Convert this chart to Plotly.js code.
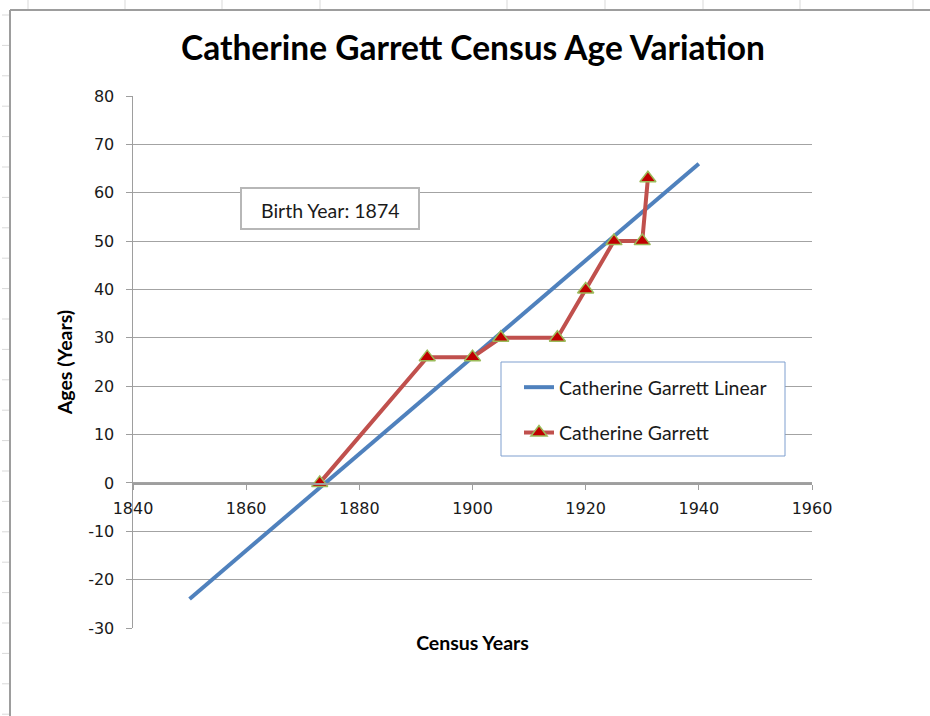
<!DOCTYPE html>
<html>
<head>
<meta charset="utf-8">
<script src="https://cdn.plot.ly/plotly-3.0.1.min.js"></script>
<style>html,body{margin:0;padding:0;background:#fff;}#chart{width:930px;height:716px;}</style>
</head>
<body>
<div id="chart"></div>
<script>
// Data
var censusYears = [1873, 1892, 1900, 1905, 1915, 1920, 1925, 1930, 1931];
var censusAges = [0, 26, 26, 30, 30, 40, 50, 50, 63];
var linearYears = [1850, 1940];
var linearAges = [-24, 66];
var xTickVals = [1840, 1860, 1880, 1900, 1920, 1940, 1960];
var xTickText = ["1840", "1860", "1880", "1900", "1920", "1940", "1960"];
var yTickVals = [-30, -20, -10, 0, 10, 20, 30, 40, 50, 60, 70, 80];
var yTickText = ["-30", "-20", "-10", "0", "10", "20", "30", "40", "50", "60", "70", "80"];
var seriesNames = ["Catherine Garrett Linear", "Catherine Garrett"];
var titleText = "Catherine Garrett Census Age Variation";
var xTitle = "Census Years";
var yTitle = "Ages (Years)";
var noteText = "Birth Year: 1874";

var W = 930, H = 716;
function px(x){ return x / W; }
function py(y){ return 1 - y / H; }

var plotL = 133, plotR = 812, plotT = 96, plotB = 628;
var zeroY = 483;

var traces = [
  {
    x: linearYears, y: linearAges, name: seriesNames[0], type: "scatter", mode: "lines",
    line: {color: "#4f81bd", width: 4}, legendgroup: "a", hoverinfo: "x+y"
  },
  {
    x: censusYears, y: censusAges, name: seriesNames[1], type: "scatter", mode: "lines+markers",
    line: {color: "#c0504d", width: 4},
    marker: {symbol: "triangle-up", size: 14, color: "#c00000", line: {color: "#9bbb59", width: 1.5}},
    legendgroup: "b", hoverinfo: "x+y"
  },
  {
    x: [null], y: [null], xaxis: "x2", yaxis: "y", type: "scatter", mode: "lines",
    showlegend: false, hoverinfo: "skip"
  }
];

var shapes = [];
// spreadsheet frame
shapes.push({type: "line", xref: "paper", yref: "paper", x0: px(10), x1: px(10), y0: py(10), y1: 0, line: {color: "#9d9d9d", width: 2}});
shapes.push({type: "line", xref: "paper", yref: "paper", x0: px(10), x1: 1, y0: py(10), y1: py(10), line: {color: "#9d9d9d", width: 2}});
var colLines = [28, 125, 222, 320, 507, 605, 703, 800, 913];
colLines.forEach(function(c){
  shapes.push({type: "line", xref: "paper", yref: "paper", x0: px(c), x1: px(c), y0: 1, y1: py(9), line: {color: "#d9d9d9", width: 1}});
});
for (var r = 15; r < H; r += 30.4) {
  shapes.push({type: "line", xref: "paper", yref: "paper", x0: px(2), x1: px(9), y0: py(r), y1: py(r), line: {color: "#d9d9d9", width: 1}});
}
// legend box
shapes.push({type: "rect", xref: "paper", yref: "paper", x0: px(501), x1: px(785), y0: py(362), y1: py(456),
  line: {color: "#7f9fcf", width: 1}, fillcolor: "#ffffff", layer: "above"});
// note box
shapes.push({type: "rect", xref: "paper", yref: "paper", x0: px(241), x1: px(419), y0: py(188), y1: py(229),
  line: {color: "#b7b7b7", width: 2}, fillcolor: "#ffffff", layer: "above"});

var tickFont = {family: "'DejaVu Sans', sans-serif", size: 16, color: "#1a1a1a"};

var layout = {
  width: W, height: H,
  margin: {l: 0, r: 0, t: 0, b: 0},
  paper_bgcolor: "#ffffff", plot_bgcolor: "rgba(0,0,0,0)",
  showlegend: true,
  title: {text: "<b>" + titleText + "</b>", x: px(473), xref: "paper", xanchor: "center", y: py(48), yref: "paper", yanchor: "middle",
    font: {family: "Lato, 'Open Sans', sans-serif", size: 33.5, color: "#000"}},
  xaxis: {
    domain: [px(plotL), px(plotR)], range: [1840, 1960], anchor: "y",
    showticklabels: false, ticks: "", showgrid: false, showline: false, zeroline: false,
    title: {text: "<b>" + xTitle + "</b>", standoff: 8, font: {family: "Lato, sans-serif", size: 19.5, color: "#000"}}
  },
  xaxis2: {
    overlaying: "x", anchor: "free", position: py(zeroY), domain: [px(plotL), px(plotR)], range: [1840, 1960],
    tickmode: "array", tickvals: xTickVals, ticktext: xTickText, ticks: "outside", ticklen: 5, tickcolor: "#9e9e9e", tickwidth: 1,
    ticklabelstandoff: 5,
    showline: true, linecolor: "#9e9e9e", linewidth: 1.5, showgrid: false, zeroline: false,
    tickfont: tickFont
  },
  yaxis: {
    domain: [py(plotB), py(plotT)], range: [-30, 80], tickmode: "array", tickvals: yTickVals, ticktext: yTickText,
    ticks: "outside", ticklen: 6, tickcolor: "#9e9e9e", tickwidth: 1,
    showline: true, linecolor: "#9e9e9e", linewidth: 1.5,
    showgrid: true, gridcolor: "#a3a3a3", gridwidth: 1, zeroline: false,
    ticklabelstandoff: 8,
    tickfont: tickFont,
    title: {text: "<b>" + yTitle + "</b>", standoff: 10, font: {family: "Lato, sans-serif", size: 19.5, color: "#000"}}
  },
  legend: {
    x: px(519), y: py(368), xanchor: "left", yanchor: "top", xref: "paper", yref: "paper",
    bgcolor: "rgba(0,0,0,0)", borderwidth: 0, traceorder: "grouped", tracegroupgap: 17,
    itemwidth: 30,
    font: {family: "Lato, sans-serif", size: 19.5, color: "#1a1a1a"}
  },
  shapes: shapes,
  annotations: [
    {text: noteText, xref: "paper", yref: "paper", x: px(330), y: py(211), xanchor: "center", yanchor: "middle",
     showarrow: false, font: {family: "Lato, sans-serif", size: 19.5, color: "#1a1a1a"}}
  ]
};

Plotly.newPlot("chart", traces, layout, {displayModeBar: false, staticPlot: true});
</script>
</body>
</html>
